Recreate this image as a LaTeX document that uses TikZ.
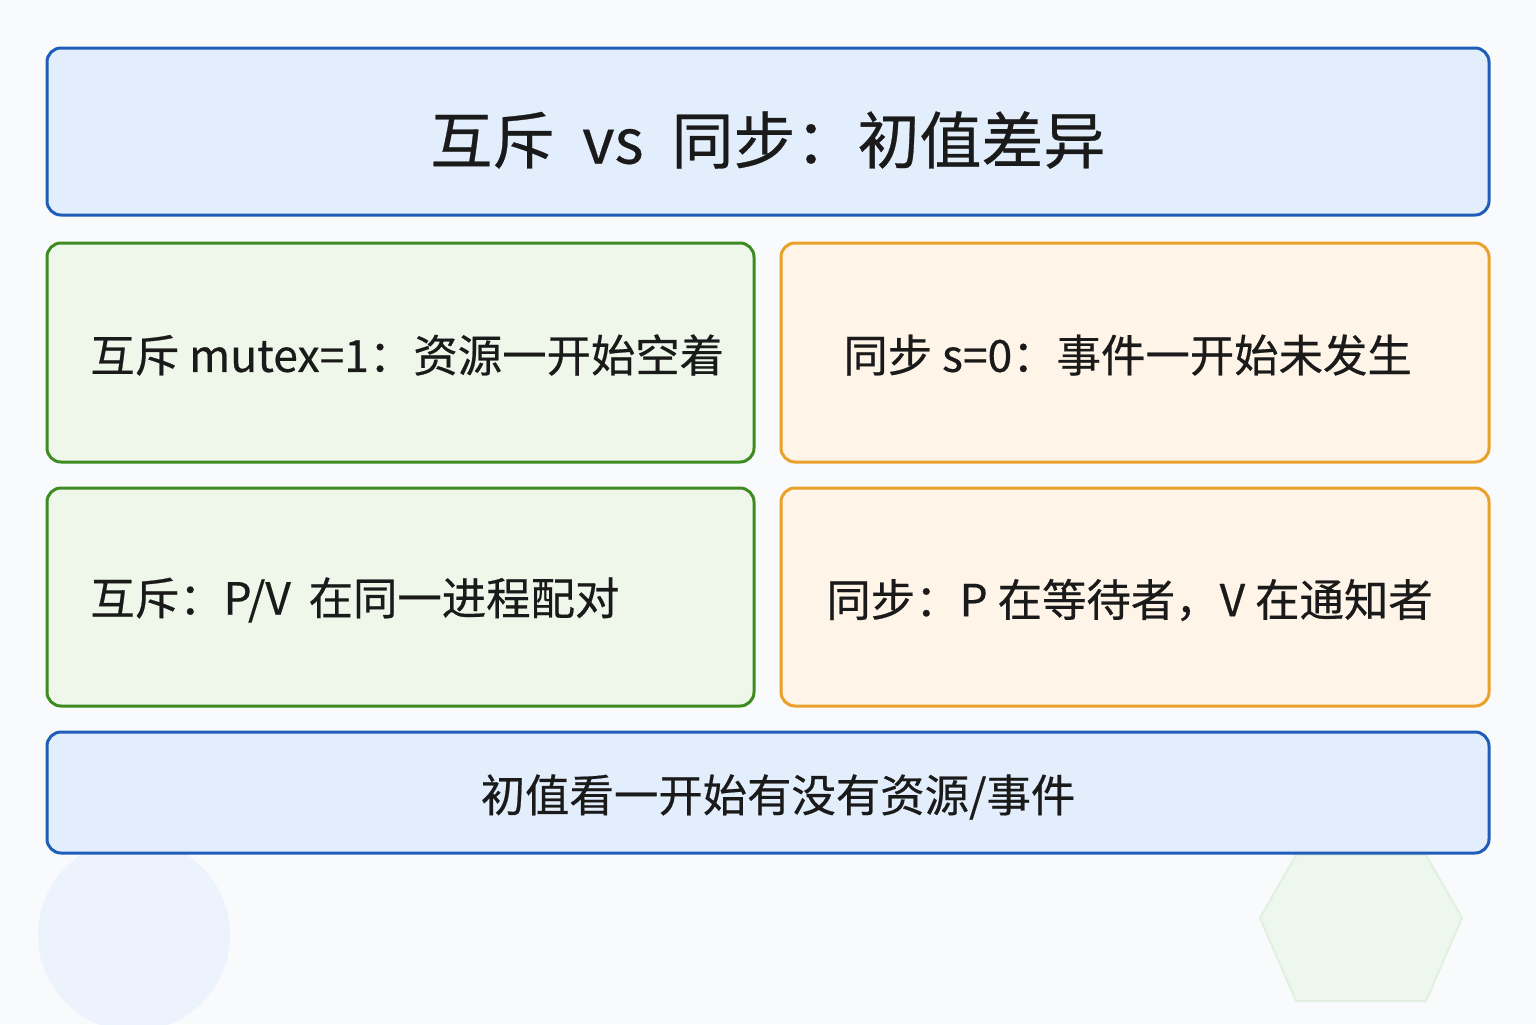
\documentclass[tikz,border=0pt]{standalone}
\usepackage{fontspec}
\setmainfont{Noto Sans CJK SC}
\newfontfamily\medfont[FakeBold=0.45]{Noto Sans CJK SC}
\definecolor{bgc}{HTML}{F8FAFC}
\definecolor{bluefill}{HTML}{E2EEFB}
\definecolor{blueline}{HTML}{1F5DB9}
\definecolor{greenfill}{HTML}{EEF7E9}
\definecolor{greenline}{HTML}{3E8B22}
\definecolor{orangefill}{HTML}{FEF4E8}
\definecolor{orangeline}{HTML}{E9A12A}
\definecolor{circfill}{HTML}{EDF3FC}
\definecolor{hexfill}{HTML}{EEF7ED}
\definecolor{hexline}{HTML}{E2F0E0}
\definecolor{txt}{HTML}{1A1A1A}
\begin{document}
\begin{tikzpicture}[x=0.5pt,y=-0.5pt,
  card/.style={rounded corners=7pt, line width=1.5pt},
  bluecard/.style={card, draw=blueline, fill=bluefill},
  greencard/.style={card, draw=greenline, fill=greenfill},
  orangecard/.style={card, draw=orangeline, fill=orangefill},
  bodytxt/.style={anchor=west, font=\medfont\fontsize{22.2pt}{26pt}\selectfont, text=txt, inner sep=0pt}]
\fill[bgc] (0,0) rectangle (1536,1024);
\useasboundingbox (0,0) rectangle (1536,1024);
% decorative shapes
\fill[circfill] (134,935) circle (96);
\draw[hexline, fill=hexfill, line width=1pt] (1260,918) -- (1296,855) -- (1426,855) -- (1462,918) -- (1426,1001) -- (1296,1001) -- cycle;
% cards
\draw[bluecard] (47,48) rectangle (1489,215);
\draw[greencard] (47,243) rectangle (754,462);
\draw[orangecard] (781,243) rectangle (1489,462);
\draw[greencard] (47,488) rectangle (754,706);
\draw[orangecard] (781,488) rectangle (1489,706);
\draw[bluecard] (47,732) rectangle (1489,853);
% texts
\node[font=\medfont\fontsize{31pt}{36pt}\selectfont, text=txt] (title) at (768,140) {互斥\hspace{0.45em}vs\hspace{0.45em}同步：初值差异};
\node[bodytxt] (t1) at (90,355) {互斥 mutex=1：资源一开始空着};
\node[bodytxt] (t2) at (843,355) {同步 s=0：事件一开始未发生};
\node[bodytxt] (t3) at (90,600) {互斥：P/V\hspace{0.4em}在同一进程配对};
\node[bodytxt] (t4) at (826,600) {同步：P 在等待者，V 在通知者};
\node[font=\medfont\fontsize{22.2pt}{26pt}\selectfont, text=txt] (t5) at (778,797) {初值看一开始有没有资源/事件};
\end{tikzpicture}
\end{document}
